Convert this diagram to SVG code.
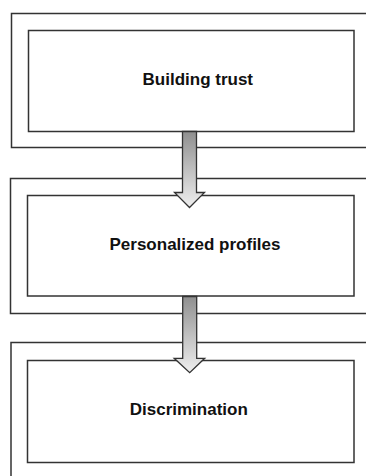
<svg xmlns="http://www.w3.org/2000/svg" width="366" height="476" viewBox="0 0 366 476">
  <style>
    .outer { fill: none; stroke: #333; stroke-width: 1.5; }
    .inner { fill: #fff; stroke: #333; stroke-width: 1.5; }
    .label { font-family: "Liberation Sans", Arial, sans-serif; font-weight: bold; font-size: 17px; fill: #111; text-anchor: middle; }
    .arrow { fill: url(#grad); stroke: #333; stroke-width: 1.3; stroke-linejoin: miter; }
  </style>
  <defs>
    <linearGradient id="grad" x1="0" y1="0" x2="0" y2="1">
      <stop offset="0" stop-color="#8f8f8f"/>
      <stop offset="1" stop-color="#efefef"/>
    </linearGradient>
  </defs>
  <rect width="366" height="476" fill="#fff"/>
  <g id="node-building-trust">
    <rect class="outer" x="11.5" y="13.5" width="380" height="134"/>
    <rect class="inner" x="28.5" y="30.5" width="325.5" height="101"/>
    <text class="label" x="197.8" y="84.5">Building trust</text>
  </g>
  <g id="node-personalized-profiles">
    <rect class="outer" x="10.5" y="178.5" width="380" height="135"/>
    <rect class="inner" x="27.5" y="195.5" width="326.5" height="100.5"/>
    <text class="label" x="195" y="249.5">Personalized profiles</text>
  </g>
  <g id="node-discrimination">
    <rect class="outer" x="11" y="342.5" width="380" height="160"/>
    <rect class="inner" x="27.5" y="360.5" width="326.5" height="102"/>
    <text class="label" x="188.8" y="414.5">Discrimination</text>
  </g>
  <g id="connectors">
    <path class="arrow" d="M182.5 131.5 H196.5 V192.5 H204.5 L189.5 207.5 L174.5 192.5 H182.5 Z"/>
    <path class="arrow" d="M182.7 296.5 H196.7 V358.3 H204.7 L189.7 372.7 L174.2 358.3 H182.7 Z"/>
  </g>
</svg>
